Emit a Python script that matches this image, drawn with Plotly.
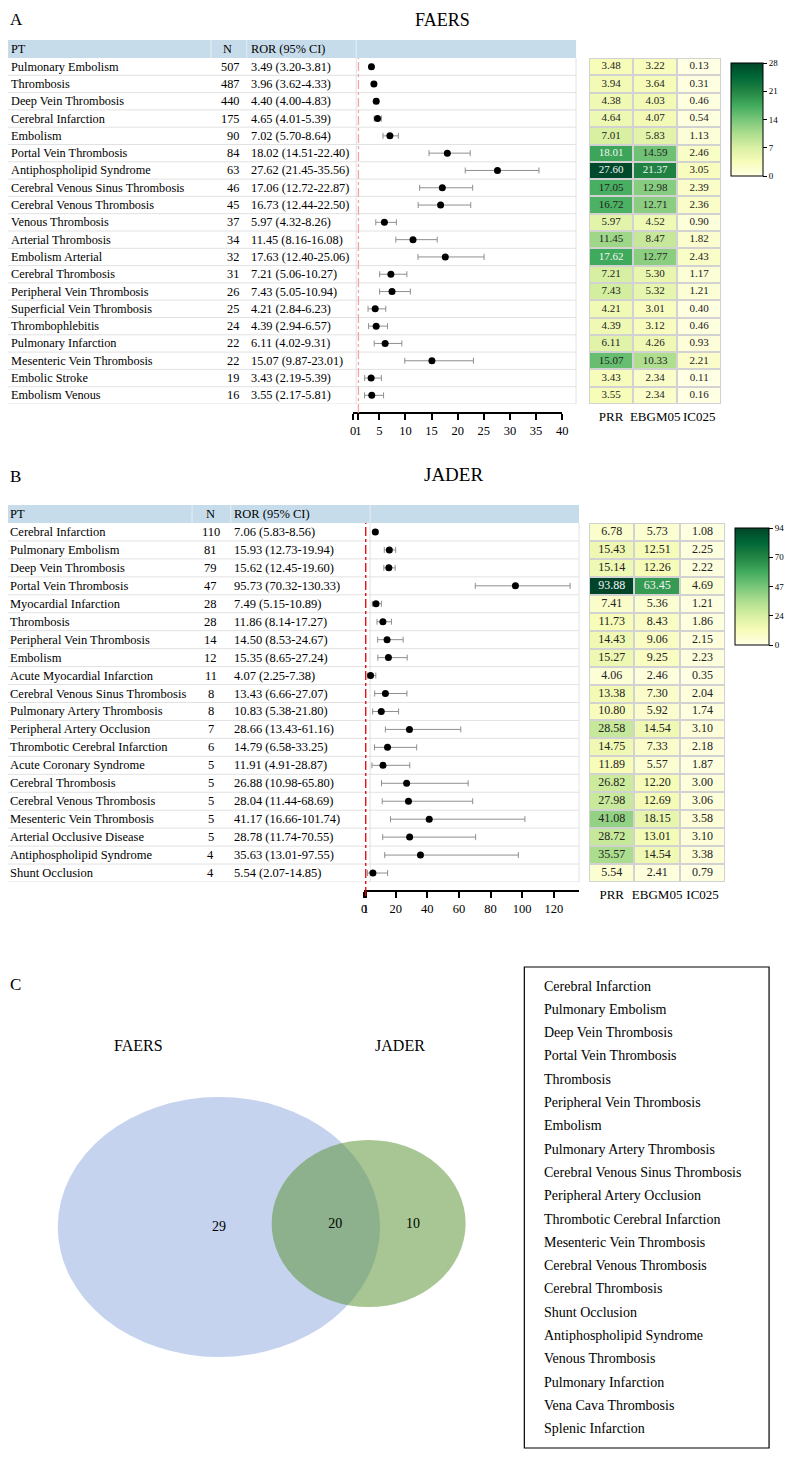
import plotly.graph_objects as go

W, H = 794, 1457
OFF = 8  # the page body margin that the browser puts round the figure
FW, FH = W - 2 * OFF, H - 2 * OFF
SERIF = 'Liberation Serif'

# ---- FAERS data ----
pt_faers = [
	'Pulmonary Embolism', 'Thrombosis', 'Deep Vein Thrombosis', 'Cerebral Infarction', 'Embolism',
	'Portal Vein Thrombosis', 'Antiphospholipid Syndrome', 'Cerebral Venous Sinus Thrombosis',
	'Cerebral Venous Thrombosis', 'Venous Thrombosis', 'Arterial Thrombosis', 'Embolism Arterial',
	'Cerebral Thrombosis', 'Peripheral Vein Thrombosis', 'Superficial Vein Thrombosis',
	'Thrombophlebitis', 'Pulmonary Infarction', 'Mesenteric Vein Thrombosis', 'Embolic Stroke',
	'Embolism Venous'
]
n_faers = [507, 487, 440, 175, 90, 84, 63, 46, 45, 37, 34, 32, 31, 26, 25, 24, 22, 22, 19, 16]
ror_faers = [3.49, 3.96, 4.40, 4.65, 7.02, 18.02, 27.62, 17.06, 16.73, 5.97, 11.45, 17.63, 7.21, 7.43, 4.21, 4.39, 6.11, 15.07, 3.43, 3.55]
lo_faers = [3.20, 3.62, 4.00, 4.01, 5.70, 14.51, 21.45, 12.72, 12.44, 4.32, 8.16, 12.40, 5.06, 5.05, 2.84, 2.94, 4.02, 9.87, 2.19, 2.17]
hi_faers = [3.81, 4.33, 4.83, 5.39, 8.64, 22.40, 35.56, 22.87, 22.50, 8.26, 16.08, 25.06, 10.27, 10.94, 6.23, 6.57, 9.31, 23.01, 5.39, 5.81]
prr_faers = [3.48, 3.94, 4.38, 4.64, 7.01, 18.01, 27.60, 17.05, 16.72, 5.97, 11.45, 17.62, 7.21, 7.43, 4.21, 4.39, 6.11, 15.07, 3.43, 3.55]
ebgm_faers = [3.22, 3.64, 4.03, 4.07, 5.83, 14.59, 21.37, 12.98, 12.71, 4.52, 8.47, 12.77, 5.30, 5.32, 3.01, 3.12, 4.26, 10.33, 2.34, 2.34]
ic_faers = [0.13, 0.31, 0.46, 0.54, 1.13, 2.46, 3.05, 2.39, 2.36, 0.90, 1.82, 2.43, 1.17, 1.21, 0.40, 0.46, 0.93, 2.21, 0.11, 0.16]
ticks_faers = [0, 1, 5, 10, 15, 20, 25, 30, 35, 40]
cbar_faers = [0, 7, 14, 21, 28]

# ---- JADER data ----
pt_jader = [
	'Cerebral Infarction', 'Pulmonary Embolism', 'Deep Vein Thrombosis', 'Portal Vein Thrombosis',
	'Myocardial Infarction', 'Thrombosis', 'Peripheral Vein Thrombosis', 'Embolism',
	'Acute Myocardial Infarction', 'Cerebral Venous Sinus Thrombosis', 'Pulmonary Artery Thrombosis',
	'Peripheral Artery Occlusion', 'Thrombotic Cerebral Infarction', 'Acute Coronary Syndrome',
	'Cerebral Thrombosis', 'Cerebral Venous Thrombosis', 'Mesenteric Vein Thrombosis',
	'Arterial Occlusive Disease', 'Antiphospholipid Syndrome', 'Shunt Occlusion'
]
n_jader = [110, 81, 79, 47, 28, 28, 14, 12, 11, 8, 8, 7, 6, 5, 5, 5, 5, 5, 4, 4]
ror_jader = [7.06, 15.93, 15.62, 95.73, 7.49, 11.86, 14.50, 15.35, 4.07, 13.43, 10.83, 28.66, 14.79, 11.91, 26.88, 28.04, 41.17, 28.78, 35.63, 5.54]
lo_jader = [5.83, 12.73, 12.45, 70.32, 5.15, 8.14, 8.53, 8.65, 2.25, 6.66, 5.38, 13.43, 6.58, 4.91, 10.98, 11.44, 16.66, 11.74, 13.01, 2.07]
hi_jader = [8.56, 19.94, 19.60, 130.33, 10.89, 17.27, 24.67, 27.24, 7.38, 27.07, 21.80, 61.16, 33.25, 28.87, 65.80, 68.69, 101.74, 70.55, 97.55, 14.85]
prr_jader = [6.78, 15.43, 15.14, 93.88, 7.41, 11.73, 14.43, 15.27, 4.06, 13.38, 10.80, 28.58, 14.75, 11.89, 26.82, 27.98, 41.08, 28.72, 35.57, 5.54]
ebgm_jader = [5.73, 12.51, 12.26, 63.45, 5.36, 8.43, 9.06, 9.25, 2.46, 7.30, 5.92, 14.54, 7.33, 5.57, 12.20, 12.69, 18.15, 13.01, 14.54, 2.41]
ic_jader = [1.08, 2.25, 2.22, 4.69, 1.21, 1.86, 2.15, 2.23, 0.35, 2.04, 1.74, 3.10, 2.18, 1.87, 3.00, 3.06, 3.58, 3.10, 3.38, 0.79]
ticks_jader = [0, 1, 20, 40, 60, 80, 100, 120]
cbar_jader = [0, 23.5, 47, 70.5, 94]

metrics = ['PRR', 'EBGM05', 'IC025']

# ---- Venn ----
venn_counts = [29, 20, 10]
venn_names = ['FAERS', 'JADER']
shared_terms = [
	'Cerebral Infarction', 'Pulmonary Embolism', 'Deep Vein Thrombosis', 'Portal Vein Thrombosis',
	'Thrombosis', 'Peripheral Vein Thrombosis', 'Embolism', 'Pulmonary Artery Thrombosis',
	'Cerebral Venous Sinus Thrombosis', 'Peripheral Artery Occlusion', 'Thrombotic Cerebral Infarction',
	'Mesenteric Vein Thrombosis', 'Cerebral Venous Thrombosis', 'Cerebral Thrombosis', 'Shunt Occlusion',
	'Antiphospholipid Syndrome', 'Venous Thrombosis', 'Pulmonary Infarction', 'Vena Cava Thrombosis',
	'Splenic Infarction'
]


# page pixel -> paper fraction
def px(x):
	return (x - OFF) / FW


def py(y):
	return 1 - (y - OFF) / FH


ylgn = [
	[0.0, 'rgb(255,255,229)'], [0.125, 'rgb(247,252,185)'], [0.25, 'rgb(217,240,163)'],
	[0.375, 'rgb(173,221,142)'], [0.5, 'rgb(120,198,121)'], [0.625, 'rgb(65,171,93)'],
	[0.75, 'rgb(35,132,67)'], [0.875, 'rgb(0,104,55)'], [1.0, 'rgb(0,69,41)']
]

fig = go.Figure()
shapes = []
annotations = []


def note(text, x, y, yref='paper', xanchor='left', font=None):
	annotations.append(dict(text=text, xref='paper', yref=yref, x=x, y=y,
		xanchor=xanchor, yanchor='middle', showarrow=False, font=font))


def panel(idx, pts, ns, ror, lo, hi, prr, ebgm, ic, ticks, cbar, g):
	# g holds the pixel geometry of this panel
	xa = 'x' if idx == 1 else f'x{idx}'
	ya = 'y' if idx == 1 else f'y{idx}'
	xh = f'x{idx + 1}'
	yh = f'y{idx + 1}'
	rows = len(pts)

	# header band
	shapes.append(dict(type='rect', xref='paper', yref='paper', x0=px(g['left']), x1=px(g['right']),
		y0=py(g['head_top']), y1=py(g['head_bot']), fillcolor='#c7dceb', line=dict(width=0), layer='below'))
	for xd in g['dividers']:
		shapes.append(dict(type='line', xref='paper', yref='paper', x0=px(xd), x1=px(xd),
			y0=py(g['head_top']), y1=py(g['head_bot']), line=dict(color='#e6eef5', width=1)))
	# plot column borders
	for xd in (g['dividers'][-1], g['right']):
		shapes.append(dict(type='line', xref='paper', yref='paper', x0=px(xd), x1=px(xd),
			y0=py(g['head_bot']), y1=py(g['row_bot']), line=dict(color='#e2e2e2', width=1), layer='below'))
	# row separators
	for i in range(rows):
		shapes.append(dict(type='line', xref='paper', yref=ya, x0=px(g['left']), x1=px(g['right']),
			y0=i + 0.5, y1=i + 0.5, line=dict(color='#e2e2e2', width=1), layer='below'))
	# reference line at ROR = 1
	shapes.append(dict(type='line', xref=xa, yref='paper', x0=1, x1=1,
		y0=py(g['ref_bot']), y1=py(g['head_bot']), line=dict(color=g['ref_color'], width=1.3, dash='dashdot')))

	# header text
	hy = py((g['head_top'] + g['head_bot']) / 2)
	font = dict(family=SERIF, size=g['fs'], color='black')
	note('PT', px(g['pt_x']), hy, font=font)
	note('N', px(g['n_head']), hy, xanchor='center', font=font)
	note('ROR (95% CI)', px(g['ror_x']), hy, font=font)
	# table rows
	for i in range(rows):
		note(pts[i], px(g['pt_x']), i, yref=ya, font=font)
		note(str(ns[i]), px(g['n_x']), i, yref=ya, xanchor=g['n_anchor'], font=font)
		note(f'{ror[i]:.2f} ({lo[i]:.2f}-{hi[i]:.2f})', px(g['ror_x']), i, yref=ya, font=font)

	# forest plot
	fig.add_trace(go.Scatter(
		x=ror, y=list(range(rows)), xaxis=xa, yaxis=ya,
		mode='markers',
		marker=dict(color='black', size=7),
		error_x=dict(type='data', symmetric=False,
			array=[h - r for h, r in zip(hi, ror)],
			arrayminus=[r - l for r, l in zip(ror, lo)],
			color='#8f8f8f', thickness=1, width=3),
		showlegend=False, hoverinfo='skip'
	))

	# heatmap of signal metrics
	z = [[prr[i], ebgm[i], ic[i]] for i in range(rows)]
	shapes.append(dict(type='rect', xref=xh, yref=yh, x0=-0.5, x1=2.5, y0=-0.5, y1=rows - 0.5,
		fillcolor='#d2d2d2', line=dict(width=0), layer='below'))
	fig.add_trace(go.Heatmap(
		z=z, x=metrics, y=list(range(rows)), xaxis=xh, yaxis=yh,
		colorscale=ylgn, zmin=0, zmax=cbar[-1],
		xgap=2, ygap=2,
		colorbar=dict(
			x=px(g['cb_x']), xanchor='left', y=py(g['cb_top']), yanchor='top',
			len=g['cb_len'], lenmode='pixels', thickness=g['cb_w'], xpad=0, ypad=0,
			outlinecolor='black', outlinewidth=1,
			ticks='outside', ticklen=4, tickcolor='black',
			tickvals=cbar, ticktext=[str(round(v)) for v in cbar],
			tickfont=dict(family=SERIF, size=9, color='black')
		),
		hoverinfo='skip'
	))
	# cell values, white on the dark cells
	cx, cy, ct, cc = [], [], [], []
	for i in range(rows):
		for j, m in enumerate(metrics):
			v = z[i][j]
			cx.append(m)
			cy.append(i)
			ct.append(f'{v:.2f}')
			cc.append('#f4f4f4' if v / cbar[-1] > 0.62 else '#222222')
	fig.add_trace(go.Scatter(
		x=cx, y=cy, xaxis=xh, yaxis=yh, mode='text', text=ct,
		textfont=dict(family=SERIF, size=g['hfs'], color=cc),
		showlegend=False, hoverinfo='skip'
	))

	row_dom = [py(g['row_bot']), py(g['head_bot'])]
	axis_font = dict(family=SERIF, size=12.5, color='black')
	fig.update_layout(**{
		('xaxis' if idx == 1 else f'xaxis{idx}'): dict(
			domain=[px(g['ax_l']), px(g['ax_r'])], range=[0, g['xmax']],
			anchor='free', position=py(g['ax_y']),
			tickvals=ticks, ticktext=[str(t) for t in ticks], tickangle=0,
			ticks='outside', ticklen=6, tickwidth=1.5, tickcolor='black',
			showline=True, linecolor='black', linewidth=2,
			showgrid=False, zeroline=False, tickfont=axis_font, automargin=False
		),
		('yaxis' if idx == 1 else f'yaxis{idx}'): dict(
			domain=row_dom, range=[rows - 0.5, -0.5], visible=False, anchor=xa, automargin=False
		),
		f'xaxis{idx + 1}': dict(
			domain=[px(g['hm_l']), px(g['hm_r'])], anchor=yh, tickangle=0,
			categoryorder='array', categoryarray=metrics, range=[-0.5, 2.5],
			showgrid=False, zeroline=False, showline=False, ticks='', automargin=False,
			ticklabelstandoff=3, tickfont=dict(family=SERIF, size=13, color='black')
		),
		f'yaxis{idx + 1}': dict(
			domain=row_dom, range=[rows - 0.5, -0.5], visible=False, anchor=xh, automargin=False
		),
	})


geo_a = dict(left=8, right=579, head_top=40, head_bot=58, row_bot=404, dividers=[212, 248, 358],
	pt_x=9, n_x=242, n_anchor='right', n_head=229, ror_x=250, fs=12.3,
	ref_bot=413, ref_color='#f4a3a3', ax_l=355, ax_r=565, ax_y=413, xmax=40,
	hm_l=592, hm_r=725, hfs=11, cb_x=735, cb_top=63, cb_len=113, cb_w=32)
geo_b = dict(left=0, right=582, head_top=505, head_bot=523, row_bot=882, dividers=[193, 232, 372],
	pt_x=8, n_x=212, n_anchor='center', n_head=212, ror_x=233, fs=12.5,
	ref_bot=896, ref_color='#e00000', ax_l=366, ax_r=582, ax_y=891, xmax=136,
	hm_l=592, hm_r=729, hfs=12, cb_x=739, cb_top=528, cb_len=117, cb_w=34)

panel(1, pt_faers, n_faers, ror_faers, lo_faers, hi_faers, prr_faers, ebgm_faers, ic_faers,
	ticks_faers, cbar_faers, geo_a)
panel(3, pt_jader, n_jader, ror_jader, lo_jader, hi_jader, prr_jader, ebgm_jader, ic_jader,
	ticks_jader, cbar_jader, geo_b)

# ---- Venn diagram (panel C), axis units are page pixels (y counted from 960) ----
shapes.append(dict(type='circle', xref='x5', yref='y5', x0=58, x1=382, y0=137, y1=397,
	fillcolor='rgb(197,211,238)', line=dict(width=0), layer='below'))
shapes.append(dict(type='circle', xref='x5', yref='y5', x0=273, x1=468, y0=180, y1=347,
	fillcolor='rgba(88,146,50,0.52)', line=dict(width=0), layer='below'))

fig.add_trace(go.Scatter(
	x=[220, 337, 415], y=[267, 264, 264], xaxis='x5', yaxis='y5',
	mode='text', text=[str(c) for c in venn_counts],
	textfont=dict(family=SERIF, size=14, color='black'),
	showlegend=False, hoverinfo='skip'
))
fig.add_trace(go.Scatter(
	x=[139, 402], y=[87, 87], xaxis='x5', yaxis='y5',
	mode='text', text=venn_names,
	textfont=dict(family=SERIF, size=16, color='black'),
	showlegend=False, hoverinfo='skip'
))
fig.update_layout(
	xaxis5=dict(domain=[0, px(520)], range=[OFF, 520], visible=False, anchor='y5', automargin=False),
	yaxis5=dict(domain=[0, py(960)], range=[H - OFF - 960, 0], visible=False, anchor='x5', automargin=False),
)

# shared terms box
shapes.append(dict(type='rect', xref='paper', yref='paper', x0=px(527), x1=px(773),
	y0=py(1448), y1=py(967), line=dict(color='black', width=1.2), fillcolor='rgba(0,0,0,0)'))
for i, term in enumerate(shared_terms):
	note(term, px(545), py(986 + 23.3 * i), font=dict(family=SERIF, size=14, color='black'))

# panel letters and titles
annotations.append(dict(text='A', xref='paper', yref='paper', x=px(8), y=1,
	xanchor='left', yanchor='top', showarrow=False, font=dict(family=SERIF, size=17, color='black')))
for letter, yy in (('B', 477), ('C', 984)):
	note(letter, px(8), py(yy), font=dict(family=SERIF, size=17, color='black'))
annotations.append(dict(text='FAERS', xref='paper', yref='paper', x=px(445), y=1,
	xanchor='center', yanchor='top', showarrow=False, font=dict(family=SERIF, size=18, color='black')))
note('JADER', px(456), py(475), xanchor='center', font=dict(family=SERIF, size=19, color='black'))

fig.update_layout(
	template='none',
	width=FW, height=FH,
	margin=dict(l=0, r=0, t=0, b=0, pad=0),
	paper_bgcolor='white', plot_bgcolor='white',
	font=dict(family=SERIF, color='black'),
	shapes=shapes, annotations=annotations,
	showlegend=False
)

fig.write_html('out.html')
